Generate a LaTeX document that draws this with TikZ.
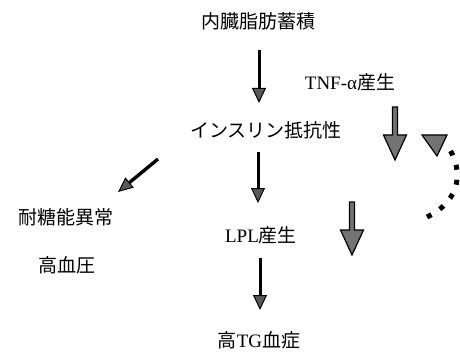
\documentclass[tikz,border=0pt]{standalone}
\usepackage{fontspec}
\setmainfont{Liberation Serif}
\newfontfamily\jp{Noto Sans CJK JP}
\usetikzlibrary{arrows.meta}
\begin{document}
\begin{tikzpicture}[x=1pt,y=-1pt,
  lbl/.style={inner sep=0pt, font=\fontsize{19}{21}\selectfont},
  thinarr/.style={line width=3pt, -{Triangle[length=15pt,width=14pt,line width=1pt,fill=black!65]}},
  diagarr/.style={line width=3.4pt, -{Triangle[length=15pt,width=13pt,line width=1pt,fill=black!65]}},
  headtri/.style={fill=black!55, draw=black, line width=1.2pt, line join=miter},
  dotline/.style={line width=5pt, dash pattern=on 5pt off 10pt},
  thickarr/.pic={\draw[headtri] (-2.5,0) -- (-2.5,28) -- (-11.5,28) -- (0,53) -- (11.5,28) -- (2.5,28) -- (2.5,0) -- cycle;}
]
\useasboundingbox[fill=white] (0,0) rectangle (460,358);

\node[lbl] (n1) at (258,21) {\jp 内臓脂肪蓄積};
\node[lbl] (n2) at (266,130) {\jp インスリン抵抗性};
\node[lbl] (tnf) at (350,82) {TNF-α{\jp 産生}};
\node[lbl] (n3) at (66,217) {\jp 耐糖能異常};
\node[lbl] (n4) at (67,265) {\jp 高血圧};
\node[lbl] (lpl) at (261,235) {LPL{\jp 産生}};
\node[lbl] (tg) at (259,340) {{\jp 高}TG{\jp 血症}};

\coordinate (a1s) at (259,50);  \coordinate (a1e) at (259,103);
\coordinate (a2s) at (258,152); \coordinate (a2e) at (258,203);
\coordinate (a3s) at (260,258); \coordinate (a3e) at (260,310);
\coordinate (d1s) at (158,159); \coordinate (d1e) at (118,192);

\draw[thinarr] (a1s) -- (a1e);
\draw[thinarr] (a2s) -- (a2e);
\draw[thinarr] (a3s) -- (a3e);
\draw[diagarr] (d1s) -- (d1e);

\pic at (395,107) {thickarr};
\pic at (352,202) {thickarr};

\draw[headtri] (422,135) -- (447,135) -- (437,156) -- cycle;
\draw[dotline] (427,217) .. controls (462,200) and (462,170) .. (450,150);
\end{tikzpicture}
\end{document}
